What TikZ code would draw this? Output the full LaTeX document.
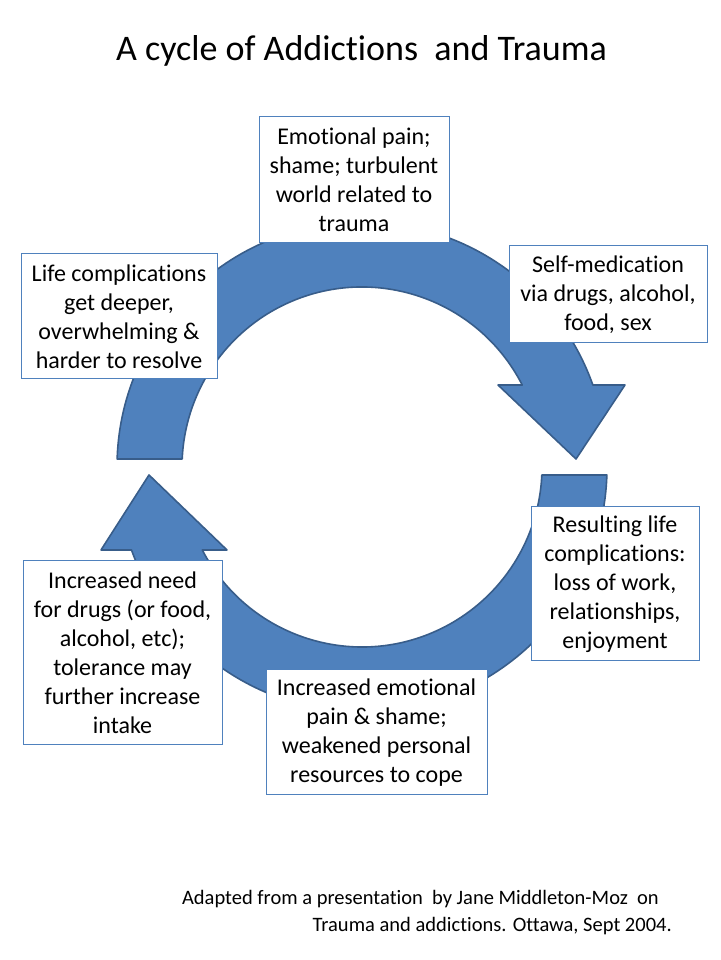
\documentclass[tikz,border=0pt]{standalone}
\usepackage{fontspec}
\setmainfont{Carlito}[RawFeature={-liga;-clig;-dlig}]
\usetikzlibrary{calc}
\definecolor{ofblue}{HTML}{4F81BD}
\definecolor{ofdark}{HTML}{385D8A}
\tikzset{
  arrowshape/.style={fill=ofblue, draw=ofdark, line width=1.6pt, line join=round},
  textbox/.style={draw=ofblue, fill=white, line width=1pt, inner sep=0pt, align=center,
    font=\fontsize{24}{29}\selectfont},
  titletext/.style={inner sep=0pt, font=\fontsize{36}{43}\selectfont},
  foottext/.style={inner sep=0pt, font=\fontsize{20.5}{27}\selectfont}
}
\begin{document}
\begin{tikzpicture}[x=1pt,y=1pt]
\useasboundingbox (0,0) rectangle (720,960);
\fill[white] (0,0) rectangle (720,960);
\coordinate (C) at (362,493);
% upper circular arrow
\draw[arrowshape] ($(C)+(178.13:245)$) arc[start angle=178.13, end angle=19.55, radius=245]
  -- (625,575) -- (576,501) -- (498,575)
  -- ($(C)+(27.09:180)$) arc[start angle=27.09, end angle=177.45, radius=180] -- cycle;
% lower circular arrow
\draw[arrowshape] ($(C)+(-1.87:245)$) arc[start angle=-1.87, end angle=-160.2, radius=245]
  -- (101,410) -- (149,485) -- (227,410)
  -- ($(C)+(-152.54:180)$) arc[start angle=-152.54, end angle=-2.55, radius=180] -- cycle;
% title
\node[titletext, anchor=base] (title) at (361.5,899) {A cycle of Addictions\ \ and Trauma};
% boxes
\node[textbox, minimum width=190pt, minimum height=126pt] (pain) at (354,780)
  {Emotional pain;\\ shame; turbulent\\ world related to\\ trauma};
\node[textbox, minimum width=198pt, minimum height=97pt] (selfmed) at (608,665.5)
  {Self-medication\\ via drugs, alcohol,\\ food, sex};
\node[textbox, minimum width=196pt, minimum height=125pt] (deeper) at (119,643.5)
  {Life complications\\ get deeper,\\ overwhelming \&\\ harder to resolve};
\node[textbox, minimum width=168pt, minimum height=154pt] (result) at (615,376)
  {Resulting life\\ complications:\\ loss of work,\\ relationships,\\ enjoyment};
\node[textbox, minimum width=199pt, minimum height=184pt] (need) at (122.5,307)
  {Increased need\\ for drugs (or food,\\ alcohol, etc);\\ tolerance may\\ further increase\\ intake};
\node[textbox, minimum width=221pt, minimum height=125pt] (shame) at (376.5,227.5)
  {Increased emotional\\ pain \& shame;\\ weakened personal\\ resources to cope};
% footer
\node[foottext, anchor=base east] (foot1) at (659,55)
  {Adapted from a presentation\ \ by Jane Middleton-Moz\ \ on};
\node[foottext, anchor=base east] (foot2) at (672,28)
  {Trauma and addictions. Ottawa, Sept 2004.};
\end{tikzpicture}
\end{document}
